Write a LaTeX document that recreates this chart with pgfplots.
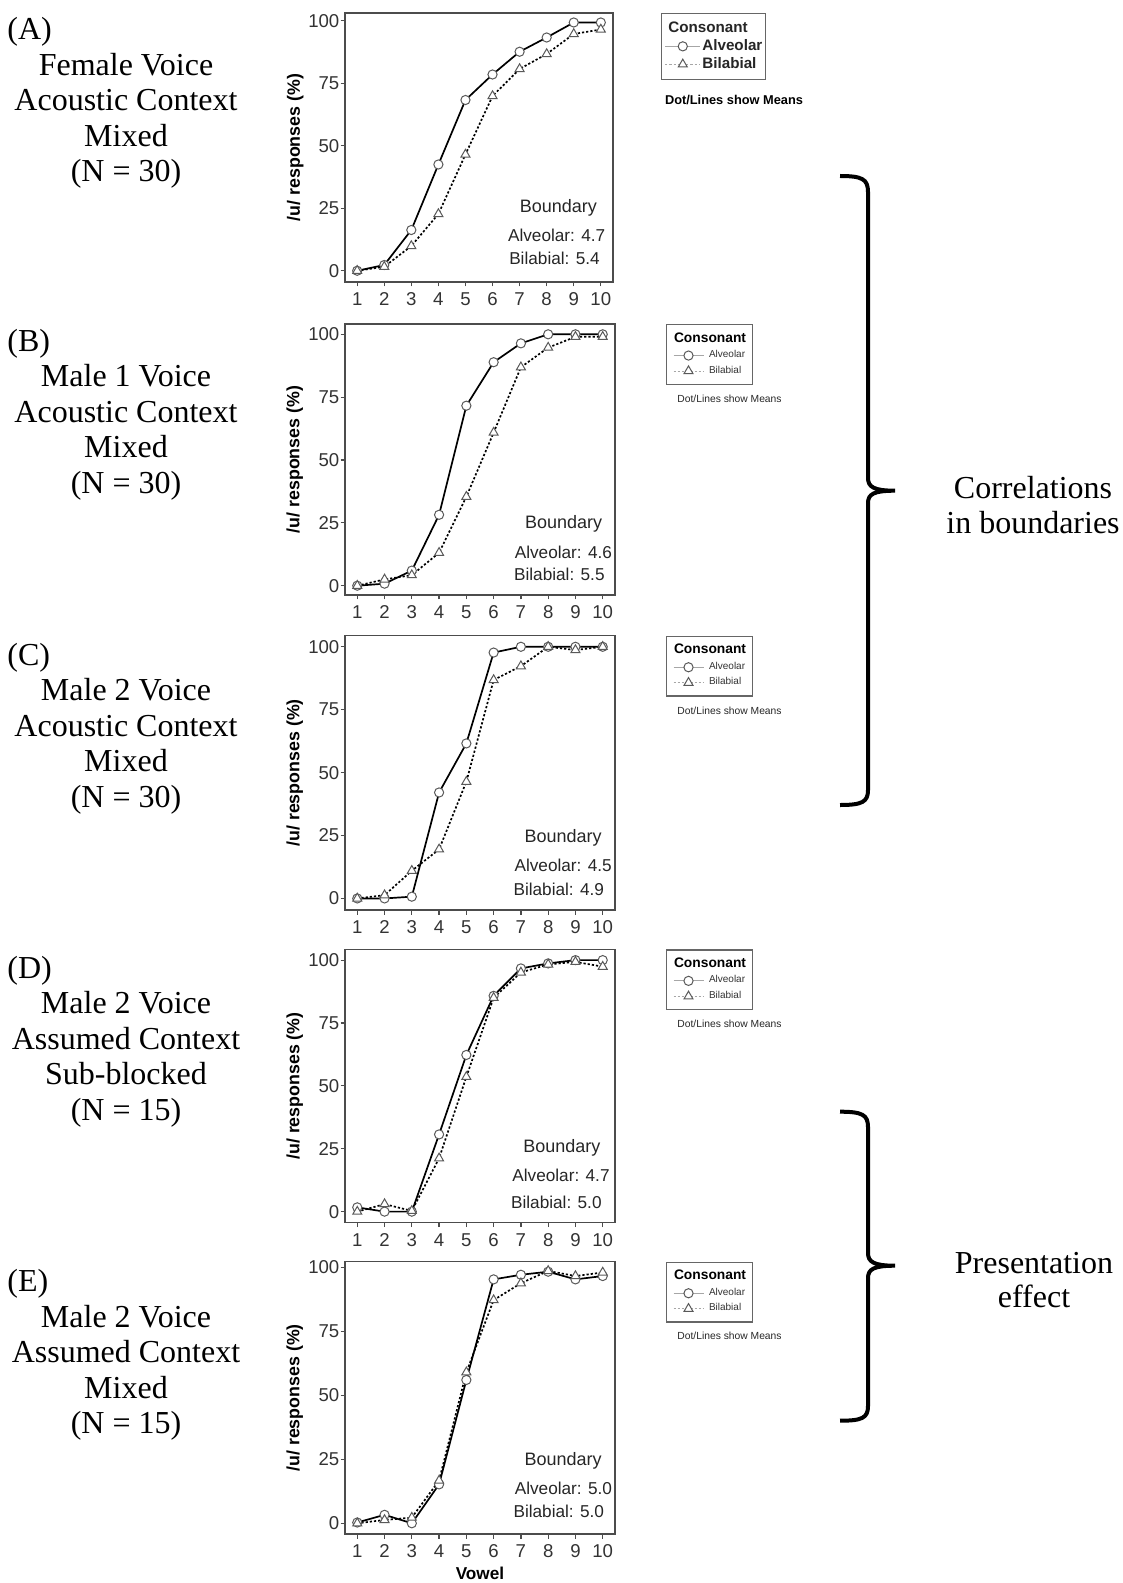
\documentclass[border=0pt]{standalone}
\usepackage{pgfplots}
\pgfplotsset{compat=1.18}
\usepackage{fontspec}
\setmainfont{Liberation Sans}
\newfontfamily\serifA{Liberation Serif}

\pgfplotsset{
  panel/.style={
    scale only axis, anchor=north west, clip=false,
    xmin=0.55, xmax=10.45,
    xtick={1,...,10}, ytick={0,25,50,75,100},
    tick pos=left, tick align=outside,
    major tick length=2.25pt,
    axis line style={draw=black!70, line width=0.75pt},
    tick style={draw=black!70, line width=0.6pt},
    /pgf/number format/assume math mode=true,
    ticklabel style={font=\fontsize{9.3pt}{10pt}\selectfont, text=black!80},
    xticklabel style={anchor=north, inner sep=0pt, yshift=-2.8pt},
    yticklabel style={anchor=east, inner sep=0pt, xshift=-0.4pt},
    ylabel={/u/ responses (\%)},
    ylabel style={font=\fontsize{8.9pt}{9pt}\selectfont\bfseries, at={(axis description cs:-0.186,0.5)}, anchor=center},
    legend cell align=left,
  },
  smalllegend/.style={
    legend style={at={(axis description cs:1.189,1.0)}, anchor=north west, draw=black!60, line width=0.6pt,
      inner xsep=3.2pt, inner ysep=4.0pt, row sep=2.6pt, column sep=2.5pt,
      font=\fontsize{5pt}{6pt}\selectfont, text=black!80, nodes={inner sep=0pt}},
    legend image code/.code={\draw[##1, draw=black!35, mark=none, line width=0.5pt] (0pt,0pt) -- (15pt,0pt); \draw[##1] plot coordinates {(7.5pt,0pt)};},
  },
  alv/.style={black, solid, line width=0.85pt, mark=*, mark size=2.3pt, mark options={solid, draw=black!65, fill=white, line width=0.5pt}},
  bil/.style={black, line width=0.85pt, dash pattern=on 1.1pt off 1.0pt, mark=triangle*, mark size=2.6pt, mark options={solid, draw=black!65, fill=white, line width=0.5pt}},
}

\newcommand{\bnd}[8]{%
  \node[font=\fontsize{9pt}{10pt}\selectfont, text=black!85, anchor=base] at (axis cs:#1,#2) {Boundary};
  \node[font=\fontsize{8.6pt}{10pt}\selectfont, text=black!85, anchor=base] at (axis cs:#3,#4) {Alveolar: #7};
  \node[font=\fontsize{8.6pt}{10pt}\selectfont, text=black!85, anchor=base] at (axis cs:#5,#6) {Bilabial: #8};
}

\tikzset{lt/.style={font=\serifA\fontsize{16pt}{17.75pt}\selectfont, inner sep=0pt}}
\newcommand{\paneltext}[6]{%
  \node[lt, anchor=base west] at (7,#1) {(#2)};
  \node[lt, anchor=base] at (126,#1+35.5) {#3};
  \node[lt, anchor=base] at (126,#1+71) {#4};
  \node[lt, anchor=base] at (126,#1+106.5) {#5};
  \node[lt, anchor=base] at (126,#1+142) {#6};
}

\begin{document}
\begin{tikzpicture}
\path[use as bounding box] (0pt,0pt) rectangle (561.5pt,-791.5pt);

% ---------------- Panel A
\begin{axis}[panel, at={(172.5pt,-6.5pt)}, width=134pt, height=134.5pt, ymin=-4.5, ymax=103.1,
  legend style={at={(axis description cs:1.178,1.001)}, anchor=north west, draw=black!60, line width=0.6pt,
    inner xsep=1.75pt, inner ysep=4.2pt, row sep=2.0pt, column sep=0.8pt,
    font=\fontsize{7.6pt}{8pt}\selectfont\bfseries, text=black!85, nodes={inner sep=0pt}},
  legend image code/.code={\draw[#1, draw=black!35, mark=none, line width=0.5pt] (0pt,0pt) -- (17.5pt,0pt); \draw[#1] plot coordinates {(8.75pt,0pt)};},
]
\addlegendimage{empty legend}
\addlegendentry{\hspace*{-17.05pt}Consonant}
\addplot[alv] coordinates {(1,0)(2,2.3)(3,16.3)(4,42.5)(5,68.3)(6,78.5)(7,87.6)(8,93.3)(9,99.3)(10,99.3)};
\addlegendentry{Alveolar}
\addplot[bil] coordinates {(1,0)(2,1.6)(3,9.9)(4,22.7)(5,46.5)(6,69.9)(7,80.7)(8,86.7)(9,94.7)(10,96.5)};
\addlegendentry{Bilabial}
\bnd{8.43}{23.1}{8.37}{11.6}{8.29}{2.3}{4.7}{5.4}
\end{axis}

% ---------------- Panel B
\begin{axis}[panel, smalllegend, at={(172.5pt,-162pt)}, width=135pt, height=135.5pt, ymin=-3.7, ymax=104.1]
\addlegendimage{empty legend}
\addlegendentry{\hspace*{-17.5pt}\fontsize{6.9pt}{8pt}\selectfont\bfseries\color{black}Consonant}
\addplot[alv] coordinates {(1,0)(2,0.8)(3,6)(4,28.2)(5,71.6)(6,88.9)(7,96.4)(8,100)(9,100)(10,100)};
\addlegendentry{Alveolar}
\addplot[bil] coordinates {(1,0)(2,2.5)(3,4.2)(4,13.1)(5,35.4)(6,60.9)(7,86.9)(8,94.7)(9,99)(10,99)};
\addlegendentry{Bilabial}
\bnd{8.57}{22.8}{8.56}{10.9}{8.41}{2.0}{4.6}{5.5}
\end{axis}

% ---------------- Panel C
\begin{axis}[panel, smalllegend, at={(172.5pt,-317.85pt)}, width=135pt, height=137.15pt, ymin=-4.6, ymax=104.4]
\addlegendimage{empty legend}
\addlegendentry{\hspace*{-17.5pt}\fontsize{6.9pt}{8pt}\selectfont\bfseries\color{black}Consonant}
\addplot[alv] coordinates {(1,0)(2,0)(3,0.7)(4,42.1)(5,61.6)(6,97.7)(7,100)(8,100)(9,100)(10,100)};
\addlegendentry{Alveolar}
\addplot[bil] coordinates {(1,0)(2,1.3)(3,11)(4,19.5)(5,46.4)(6,86.8)(7,92.3)(8,100)(9,98.7)(10,100)};
\addlegendentry{Bilabial}
\bnd{8.55}{22.1}{8.55}{10.6}{8.39}{1.3}{4.5}{4.9}
\end{axis}

% ---------------- Panel D
\begin{axis}[panel, smalllegend, at={(172.5pt,-474.65pt)}, width=135pt, height=136.7pt, ymin=-4.4, ymax=104.3]
\addlegendimage{empty legend}
\addlegendentry{\hspace*{-17.5pt}\fontsize{6.9pt}{8pt}\selectfont\bfseries\color{black}Consonant}
\addplot[alv] coordinates {(1,1.7)(2,0)(3,0)(4,30.7)(5,62.3)(6,85.8)(7,96.7)(8,98.7)(9,100)(10,100)};
\addlegendentry{Alveolar}
\addplot[bil] coordinates {(1,0)(2,3)(3,0.3)(4,21.2)(5,53.6)(6,85)(7,95.1)(8,98.3)(9,99.3)(10,97.4)};
\addlegendentry{Bilabial}
\bnd{8.5}{23.4}{8.47}{11.9}{8.3}{1.3}{4.7}{5.0}
\end{axis}

% ---------------- Panel E
\begin{axis}[panel, smalllegend, at={(172.5pt,-630.85pt)}, width=135pt, height=136.15pt, ymin=-4.2, ymax=102.2,
  xlabel={Vowel}, xlabel style={font=\fontsize{8.6pt}{9pt}\selectfont\bfseries, at={(axis description cs:0.5,-0.167)}, anchor=base}]
\addlegendimage{empty legend}
\addlegendentry{\hspace*{-17.5pt}\fontsize{6.9pt}{8pt}\selectfont\bfseries\color{black}Consonant}
\addplot[alv] coordinates {(1,0.3)(2,3.3)(3,0)(4,15.2)(5,56)(6,95.3)(7,97.1)(8,98.3)(9,95.3)(10,96.6)};
\addlegendentry{Alveolar}
\addplot[bil] coordinates {(1,0)(2,1.3)(3,2.2)(4,16.7)(5,59)(6,87.2)(7,93.8)(8,98.6)(9,96.6)(10,98)};
\addlegendentry{Bilabial}
\bnd{8.55}{22.4}{8.56}{11.1}{8.39}{2.2}{5.0}{5.0}
\end{axis}

% ---------------- annotations (pixel coordinates)
\begin{scope}[x=0.5pt, y=-0.5pt]
\paneltext{40}{A}{Female Voice}{Acoustic Context}{Mixed}{(N = 30)}
\paneltext{351}{B}{Male 1 Voice}{Acoustic Context}{Mixed}{(N = 30)}
\paneltext{665}{C}{Male 2 Voice}{Acoustic Context}{Mixed}{(N = 30)}
\paneltext{978}{D}{Male 2 Voice}{Assumed Context}{Sub-blocked}{(N = 15)}
\paneltext{1291.5}{E}{Male 2 Voice}{Assumed Context}{Mixed}{(N = 15)}

\node[font=\fontsize{6.4pt}{7pt}\selectfont\bfseries, anchor=base, inner sep=0pt] at (734,105) {Dot/Lines show Means};
\foreach \yy in {402.5,714,1027.5,1339.5}
  \node[font=\fontsize{5.15pt}{6pt}\selectfont, text=black!85, anchor=base, inner sep=0pt] at (729.5,\yy) {Dot/Lines show Means};

\draw[line width=2pt] (840,176) .. controls (862,176) and (868,179) .. (868,192) -- (868,478)
  .. controls (868,487) and (874,490.7) .. (895,490.7)
  .. controls (874,490.7) and (868,494) .. (868,503) -- (868,790)
  .. controls (868,802) and (862,805) .. (840,805);
\draw[line width=2pt] (840,1111.7) .. controls (862,1111.7) and (868,1114.7) .. (868,1127) -- (868,1253)
  .. controls (868,1262) and (874,1265.7) .. (895,1265.7)
  .. controls (874,1265.7) and (868,1269) .. (868,1278) -- (868,1406)
  .. controls (868,1418) and (862,1420.7) .. (840,1420.7);

\node[lt, anchor=base] at (1033,498) {Correlations};
\node[lt, anchor=base] at (1033,533) {in boundaries};
\node[lt, anchor=base] at (1034,1273) {Presentation};
\node[lt, anchor=base] at (1034,1307) {effect};
\end{scope}
\end{tikzpicture}
\end{document}
